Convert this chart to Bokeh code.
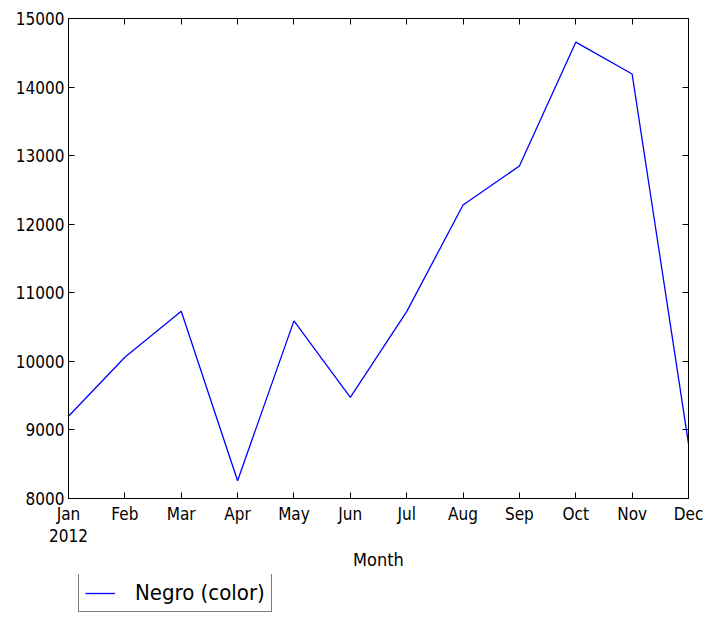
from bokeh.plotting import figure
from bokeh.layouts import column
from bokeh.models import Range1d, LinearAxis, FixedTicker, Legend, LegendItem, ColumnDataSource
from bokeh.embed import file_html
from bokeh.resources import INLINE

months = ["Jan\n2012", "Feb", "Mar", "Apr", "May", "Jun", "Jul", "Aug", "Sep", "Oct", "Nov", "Dec"]
month_index = list(range(12))
negro_color = [9200, 10060, 10730, 8260, 10590, 9475, 10725, 12280, 12850, 14655, 14190, 8800]
y_ticks = [8000, 9000, 10000, 11000, 12000, 13000, 14000, 15000]
series_name = "Negro (color)"
x_label = "Month"

FONT = "DejaVu Sans Condensed"

src = ColumnDataSource(dict(x=month_index, y=negro_color))

p = figure(frame_width=620, frame_height=480,
           x_range=Range1d(0, 11), y_range=Range1d(8000, 15000),
           output_backend="svg", toolbar_location=None,
           x_axis_location=None, y_axis_location=None,
           min_border_left=68, min_border_right=26, min_border_top=18, min_border_bottom=76)
p.grid.visible = False
p.outline_line_color = "black"
p.outline_line_width = 1
p.background_fill_color = "white"
p.border_fill_color = "white"

r = p.line("x", "y", source=src, line_color="#0000ff", line_width=1.3)

overrides = {i: m for i, m in enumerate(months)}

def style(ax, labels=True):
    ax.axis_line_color = "black"
    ax.major_tick_in = 6
    ax.major_tick_out = 0
    ax.minor_tick_line_color = None
    ax.major_tick_line_color = "black"
    ax.major_label_text_font = FONT
    ax.major_label_text_font_size = "17px" if labels else "0px"
    ax.major_label_text_color = "black" if labels else None
    ax.major_label_standoff = 5
    ax.axis_label_text_font = FONT
    ax.axis_label_text_font_size = "18px"
    ax.axis_label_text_font_style = "normal"
    ax.axis_label_text_color = "black"

xb = LinearAxis(ticker=FixedTicker(ticks=month_index), axis_label=x_label)
xb.major_label_overrides = overrides
style(xb)
xb.major_label_text_line_height = 1.1
xb.axis_label_standoff = 0
p.add_layout(xb, "below")

xt = LinearAxis(ticker=FixedTicker(ticks=month_index))
style(xt, labels=False)
p.add_layout(xt, "above")

yl = LinearAxis(ticker=FixedTicker(ticks=y_ticks))
style(yl)
yl.major_label_standoff = 4
p.add_layout(yl, "left")

yr = LinearAxis(ticker=FixedTicker(ticks=y_ticks))
style(yr, labels=False)
p.add_layout(yr, "right")

# legend strip below the chart: same data, drawn outside its visible range
q = figure(width=714, height=47, x_range=Range1d(1000, 1001), y_range=Range1d(0, 1),
           output_backend="svg", toolbar_location=None,
           x_axis_location=None, y_axis_location=None,
           min_border_left=0, min_border_right=0, min_border_top=0, min_border_bottom=0)
q.grid.visible = False
q.outline_line_color = None
q.background_fill_color = "white"
q.border_fill_color = "white"
r2 = q.line("x", "y", source=src, line_color="#0000ff", line_width=1.3)

legend = Legend(items=[LegendItem(label=series_name, renderers=[r2])],
                location=(10, 9))
legend.border_line_color = "black"
legend.border_line_width = 1
legend.label_text_font = FONT
legend.label_text_font_size = "22px"
legend.label_text_color = "black"
legend.glyph_width = 30
legend.glyph_height = 22
legend.label_height = 22
legend.label_standoff = 20
legend.padding = 6
legend.margin = 0
legend.background_fill_alpha = 1
q.add_layout(legend, "center")

layout = column(p, q, spacing=0)
open("out.html", "w").write(file_html(layout, INLINE))
